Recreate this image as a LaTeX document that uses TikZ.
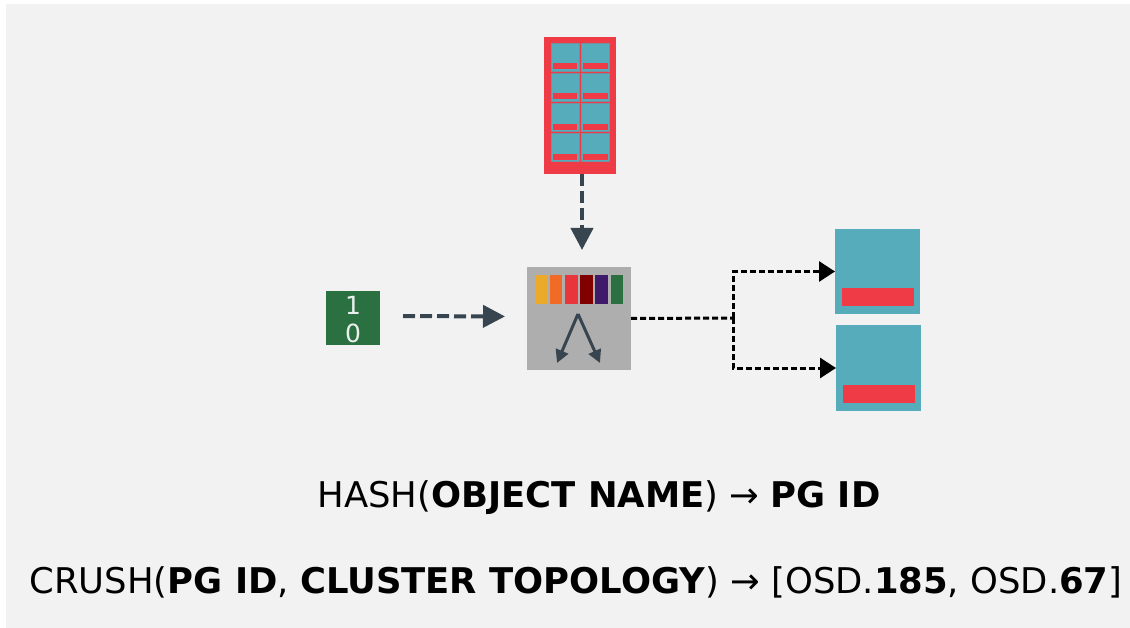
\documentclass[tikz,border=0pt]{standalone}
\usepackage{fontspec}
\setmainfont{DejaVu Sans}
\usetikzlibrary{arrows.meta}
\definecolor{panel}{HTML}{F2F2F2}
\definecolor{tealbox}{HTML}{57ACBB}
\definecolor{redbar}{HTML}{EF3B46}
\definecolor{slate}{HTML}{36454F}
\definecolor{pggray}{HTML}{AEAEAE}
\definecolor{objgreen}{HTML}{2B7040}
\definecolor{rackline}{HTML}{76909F}
\definecolor{pgyellow}{HTML}{EBAA2A}
\definecolor{pgorange}{HTML}{F26B26}
\definecolor{pgred}{HTML}{E9353C}
\definecolor{pgmaroon}{HTML}{800000}
\definecolor{pgpurple}{HTML}{3F1A6B}
\begin{document}
\begin{tikzpicture}
    [
        x=1pt, y=-1pt,
        block/.style={rectangle, minimum width=#1, inner sep=0pt, outer sep=0pt},
        rack/.style={block=72pt, minimum height=137pt, fill=redbar},
        cell/.style={block=28pt, minimum height=28pt, fill=tealbox, draw=rackline, line width=1pt},
        cellbar/.style={block=24.5pt, minimum height=6pt, fill=redbar},
        osd/.style={block=85pt, minimum height=85pt, fill=tealbox},
        osdbar/.style={block=72pt, minimum height=18pt, fill=redbar},
        pgbar/.style={block=12.5pt, minimum height=29pt},
        flow/.style={draw=slate, line width=4pt, dash pattern=on 12pt off 5pt, -{Triangle[length=22pt, width=22pt]}},
        split/.style={draw=slate, line width=3pt, -{Triangle[length=13pt, width=13pt]}},
        link/.style={draw=black, line width=3pt, dash pattern=on 6pt off 3pt},
        formula/.style={anchor=base, font=\fontsize{35.4}{35.4}\selectfont, inner sep=0pt},
    ]
    \useasboundingbox (0,0) rectangle (1130,628);
    \node (sheet) at (568,316) [block=1124pt, minimum height=624pt, fill=panel] {};
    % client rack
    \node (rack) at (580,105.5) [rack] {};
    \node (c11) at (565,57.5) [cell] {};
    \node (c12) at (595.5,57.5) [cell] {};
    \node (c21) at (565,88) [cell] {};
    \node (c22) at (595.5,88) [cell] {};
    \node (c31) at (565,118) [cell] {};
    \node (c32) at (595.5,118) [cell] {};
    \node (c41) at (565,148) [cell] {};
    \node (c42) at (595.5,148) [cell] {};
    \node (b11) at (565,66) [cellbar] {};
    \node (b12) at (595.5,66) [cellbar] {};
    \node (b21) at (565,96.5) [cellbar] {};
    \node (b22) at (595.5,96.5) [cellbar] {};
    \node (b31) at (565,127) [cellbar] {};
    \node (b32) at (595.5,127) [cellbar] {};
    \node (b41) at (565,157) [cellbar] {};
    \node (b42) at (595.5,157) [cellbar] {};
    % object
    \node (object) at (353,318) [block=54pt, minimum height=54pt, fill=objgreen] {};
    \node (objectbits) at (353,319.5) [text=white!90!objgreen, align=center, inner sep=0pt,
        font=\fontsize{25}{28}\selectfont] {1\\0};
    % placement group
    \node (pg) at (579,318.5) [block=104pt, minimum height=103pt, fill=pggray] {};
    \node (pg1) at (541,289.5) [pgbar, fill=pgyellow] {};
    \node (pg2) at (556,289.5) [pgbar, fill=pgorange] {};
    \node (pg3) at (571.5,289.5) [pgbar, fill=pgred] {};
    \node (pg4) at (586.5,289.5) [pgbar, fill=pgmaroon] {};
    \node (pg5) at (601.5,289.5) [pgbar, fill=pgpurple] {};
    \node (pg6) at (617,289.5) [pgbar, fill=objgreen] {};
    % osds
    \node (osda) at (877.5,271.5) [osd] {};
    \node (osdabar) at (878,297) [osdbar] {};
    \node (osdb) at (878.5,368) [osd] {};
    \node (osdbbar) at (879,394) [osdbar] {};
    \coordinate (fork) at (578,314);
    \coordinate (forkl) at (557,363);
    \coordinate (forkr) at (600,363);
    \coordinate (branch) at (733,318);
    \draw [flow, shorten >=17pt] ([xshift=2pt]rack.south) -- ([xshift=3pt]pg.north);
    \draw [flow, shorten <=23pt, shorten >=22pt] ([yshift=2pt]object.east) -- ([yshift=2pt]pg.west);
    \draw [split] (fork) -- (forkl);
    \draw [split] (fork) -- (forkr);
    \draw [link] (pg.east) -- (branch);
    \draw [link, -{Triangle[length=16pt, width=20pt]}] (branch) |- (osda.west);
    \draw [link, -{Triangle[length=16pt, width=20pt]}] (branch) |- (osdb.west);
    % formulas
    \node (hash) at (599,507.5) [formula] {HASH(\textbf{OBJECT NAME}) → \textbf{PG ID}};
    \node (crush) at (576,593) [formula] {CRUSH(\textbf{PG ID}, \textbf{CLUSTER TOPOLOGY}) → [OSD.\textbf{185}, OSD.\textbf{67}]};
\end{tikzpicture}
\end{document}
